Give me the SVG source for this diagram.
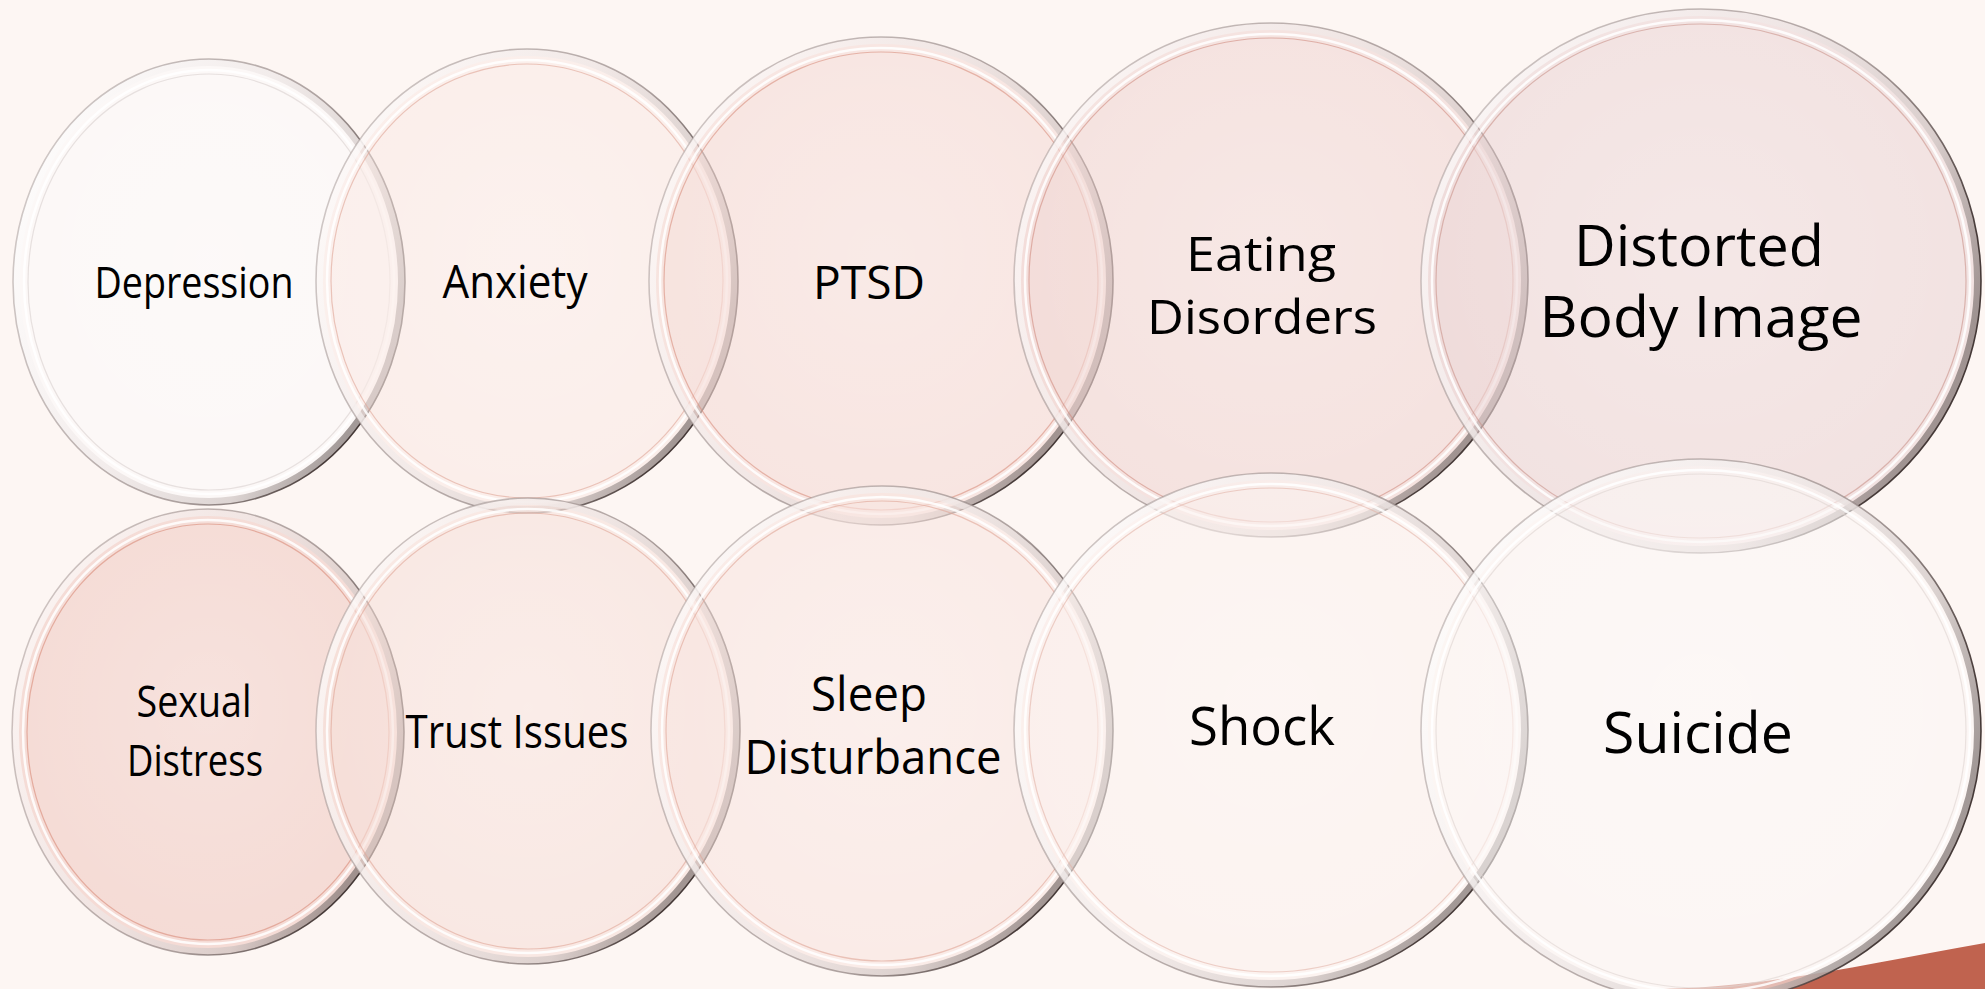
<svg xmlns="http://www.w3.org/2000/svg" width="1985" height="989" viewBox="0 0 1985 989">
<defs>
<linearGradient id="rim" x1="0.05" y1="0.1" x2="1" y2="0.55">
<stop offset="0" stop-color="#ffffff"/>
<stop offset="0.5" stop-color="#eee7e6"/>
<stop offset="0.8" stop-color="#d0c6c4"/>
<stop offset="1" stop-color="#7d7270"/>
</linearGradient>
<linearGradient id="edge" x1="0" y1="0" x2="1" y2="0.4">
<stop offset="0" stop-color="#9a8e8c" stop-opacity="0.4"/>
<stop offset="0.7" stop-color="#8a7c7a" stop-opacity="0.65"/>
<stop offset="1" stop-color="#3e3230" stop-opacity="0.95"/>
</linearGradient>
<radialGradient id="sheen" cx="0.5" cy="0.45" r="0.55">
<stop offset="0" stop-color="#ffffff" stop-opacity="0.2"/>
<stop offset="1" stop-color="#ffffff" stop-opacity="0"/>
</radialGradient>
</defs>
<style>
.bg{fill:#fdf6f3}
.body{fill-opacity:0.6}
.bevel{fill:none;stroke:url(#rim);stroke-width:7;stroke-opacity:0.7}
.hi{fill:none;stroke:#ffffff;stroke-width:2.5;stroke-opacity:0.85}
.tint{fill:none;stroke-width:1.2;stroke-opacity:0.6}
.edge{fill:none;stroke:url(#edge);stroke-width:1.6}
.sheen{fill:url(#sheen)}
text{font-family:"Open Sans","Noto Sans","Liberation Sans",sans-serif;fill:#000;text-anchor:middle}
</style>
<rect class="bg" x="0" y="0" width="1985" height="989"/>
<path d="M1650,989 C1760,989 1860,965 1985,943 L1985,989 Z" fill="#c0634f"/>

<g id="depression">
<ellipse class="body" cx="209" cy="282" rx="196" ry="223" fill="#fbfafa"/>
<ellipse class="sheen" cx="209" cy="282" rx="196" ry="223"/>
<ellipse class="bevel" cx="209" cy="282" rx="192.5" ry="219.5"/>
<ellipse class="hi" cx="209" cy="282" rx="185" ry="212"/>
<ellipse class="tint" cx="209" cy="282" rx="181" ry="208" stroke="#d8d0ce"/>
<ellipse class="edge" cx="209" cy="282" rx="196" ry="223"/>
<text x="194" y="298" font-size="44" textLength="199" lengthAdjust="spacingAndGlyphs">Depression</text>
</g>

<g id="anxiety">
<ellipse class="body" cx="527" cy="281" rx="211" ry="232" fill="#fae9e4"/>
<ellipse class="sheen" cx="527" cy="281" rx="211" ry="232"/>
<ellipse class="bevel" cx="527" cy="281" rx="207.5" ry="228.5"/>
<ellipse class="hi" cx="527" cy="281" rx="200" ry="221"/>
<ellipse class="tint" cx="527" cy="281" rx="196" ry="217" stroke="#e0a596"/>
<ellipse class="edge" cx="527" cy="281" rx="211" ry="232"/>
<text x="515" y="298" font-size="45" textLength="145" lengthAdjust="spacingAndGlyphs">Anxiety</text>
</g>

<g id="ptsd">
<ellipse class="body" cx="881" cy="281" rx="232" ry="244" fill="#f5dbd5"/>
<ellipse class="sheen" cx="881" cy="281" rx="232" ry="244"/>
<ellipse class="bevel" cx="881" cy="281" rx="228.5" ry="240.5"/>
<ellipse class="hi" cx="881" cy="281" rx="221" ry="233"/>
<ellipse class="tint" cx="881" cy="281" rx="217" ry="229" stroke="#d9907f"/>
<ellipse class="edge" cx="881" cy="281" rx="232" ry="244"/>
<text x="869" y="299" font-size="45" textLength="112" lengthAdjust="spacingAndGlyphs">PTSD</text>
</g>

<g id="eating-disorders">
<ellipse class="body" cx="1271" cy="280" rx="257" ry="257" fill="#f0d5d2"/>
<ellipse class="sheen" cx="1271" cy="280" rx="257" ry="257"/>
<ellipse class="bevel" cx="1271" cy="280" rx="253.5" ry="253.5"/>
<ellipse class="hi" cx="1271" cy="280" rx="246" ry="246"/>
<ellipse class="tint" cx="1271" cy="280" rx="242" ry="242" stroke="#d08c80"/>
<ellipse class="edge" cx="1271" cy="280" rx="257" ry="257"/>
<text x="1261" y="271" font-size="47" textLength="150" lengthAdjust="spacingAndGlyphs">Eating</text>
<text x="1262" y="334" font-size="47" textLength="230" lengthAdjust="spacingAndGlyphs">Disorders</text>
</g>

<g id="distorted-body-image">
<ellipse class="body" cx="1701" cy="281" rx="280" ry="272" fill="#ebd5d5"/>
<ellipse class="sheen" cx="1701" cy="281" rx="280" ry="272"/>
<ellipse class="bevel" cx="1701" cy="281" rx="276.5" ry="268.5"/>
<ellipse class="hi" cx="1701" cy="281" rx="269" ry="261"/>
<ellipse class="tint" cx="1701" cy="281" rx="265" ry="257" stroke="#c9928a"/>
<ellipse class="edge" cx="1701" cy="281" rx="280" ry="272"/>
<text x="1699" y="266" font-size="56" textLength="250" lengthAdjust="spacingAndGlyphs">Distorted</text>
<text x="1701" y="337" font-size="56" textLength="323" lengthAdjust="spacingAndGlyphs">Body Image</text>
</g>

<g id="sexual-distress">
<ellipse class="body" cx="208" cy="732" rx="196" ry="223" fill="#f0c9c1"/>
<ellipse class="sheen" cx="208" cy="732" rx="196" ry="223"/>
<ellipse class="bevel" cx="208" cy="732" rx="192.5" ry="219.5"/>
<ellipse class="hi" cx="208" cy="732" rx="185" ry="212"/>
<ellipse class="tint" cx="208" cy="732" rx="181" ry="208" stroke="#d98a78"/>
<ellipse class="edge" cx="208" cy="732" rx="196" ry="223"/>
<text x="194" y="717" font-size="43" textLength="115" lengthAdjust="spacingAndGlyphs">Sexual</text>
<text x="195" y="776" font-size="43" textLength="136" lengthAdjust="spacingAndGlyphs">Distress</text>
</g>

<g id="trust-issues">
<ellipse class="body" cx="528" cy="731" rx="212" ry="233" fill="#f6dfd8"/>
<ellipse class="sheen" cx="528" cy="731" rx="212" ry="233"/>
<ellipse class="bevel" cx="528" cy="731" rx="208.5" ry="229.5"/>
<ellipse class="hi" cx="528" cy="731" rx="201" ry="222"/>
<ellipse class="tint" cx="528" cy="731" rx="197" ry="218" stroke="#e0a596"/>
<ellipse class="edge" cx="528" cy="731" rx="212" ry="233"/>
<text x="517" y="748" font-size="46" textLength="223" lengthAdjust="spacingAndGlyphs">Trust Issues</text>
</g>

<g id="sleep-disturbance">
<ellipse class="body" cx="882" cy="731" rx="231" ry="245" fill="#f8e4df"/>
<ellipse class="sheen" cx="882" cy="731" rx="231" ry="245"/>
<ellipse class="bevel" cx="882" cy="731" rx="227.5" ry="241.5"/>
<ellipse class="hi" cx="882" cy="731" rx="220" ry="234"/>
<ellipse class="tint" cx="882" cy="731" rx="216" ry="230" stroke="#e0a596"/>
<ellipse class="edge" cx="882" cy="731" rx="231" ry="245"/>
<text x="869" y="711" font-size="47" textLength="116" lengthAdjust="spacingAndGlyphs">Sleep</text>
<text x="873" y="774" font-size="47" textLength="257" lengthAdjust="spacingAndGlyphs">Disturbance</text>
</g>

<g id="shock">
<ellipse class="body" cx="1271" cy="730" rx="257" ry="257" fill="#fbf1ee"/>
<ellipse class="sheen" cx="1271" cy="730" rx="257" ry="257"/>
<ellipse class="bevel" cx="1271" cy="730" rx="253.5" ry="253.5"/>
<ellipse class="hi" cx="1271" cy="730" rx="246" ry="246"/>
<ellipse class="tint" cx="1271" cy="730" rx="242" ry="242" stroke="#e3b4a9"/>
<ellipse class="edge" cx="1271" cy="730" rx="257" ry="257"/>
<text x="1262" y="745" font-size="53" textLength="146" lengthAdjust="spacingAndGlyphs">Shock</text>
</g>

<g id="suicide">
<ellipse class="body" cx="1701" cy="731" rx="280" ry="272" fill="#fcf6f5"/>
<ellipse class="sheen" cx="1701" cy="731" rx="280" ry="272"/>
<ellipse class="bevel" cx="1701" cy="731" rx="276.5" ry="268.5"/>
<ellipse class="hi" cx="1701" cy="731" rx="269" ry="261"/>
<ellipse class="tint" cx="1701" cy="731" rx="265" ry="257" stroke="#ddd3d1"/>
<ellipse class="edge" cx="1701" cy="731" rx="280" ry="272"/>
<text x="1698" y="753" font-size="57" textLength="190" lengthAdjust="spacingAndGlyphs">Suicide</text>
</g>
</svg>
